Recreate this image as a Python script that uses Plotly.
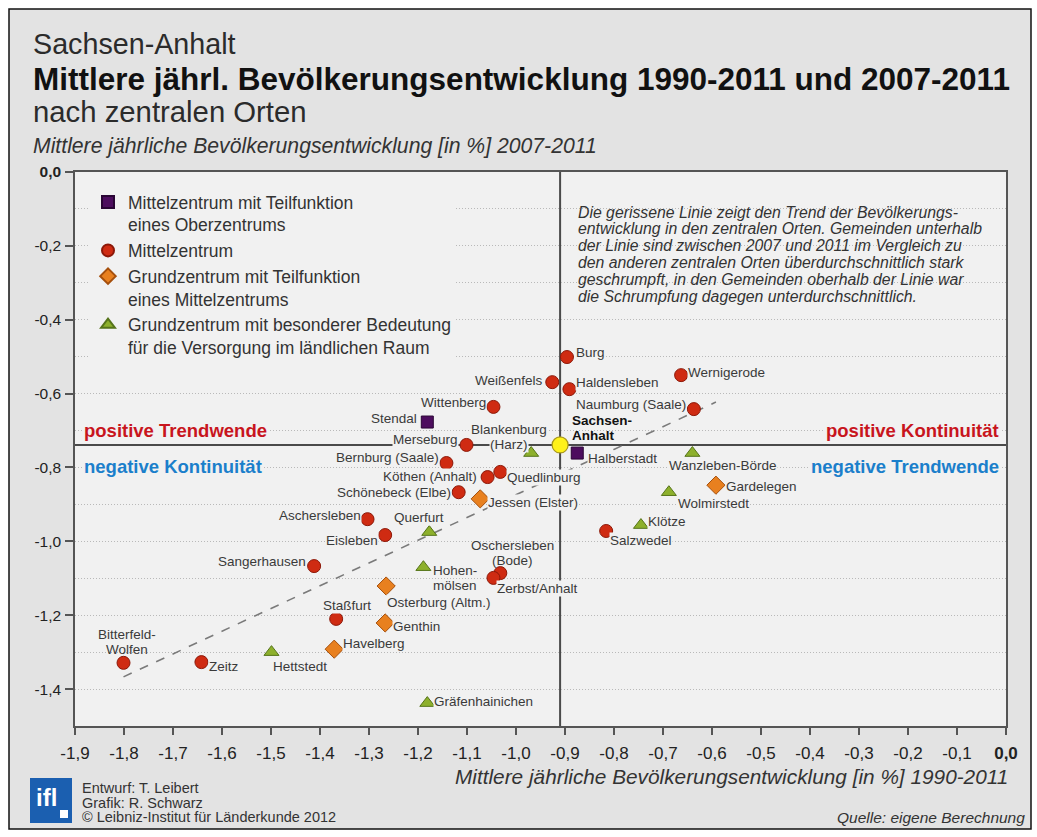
import plotly.graph_objects as go

# ---------------- data ----------------
oz_names = ["Stendal", "Halberstadt"]
oz_x = [-1.181, -0.875]
oz_y = [-0.677, -0.761]

mz_names = ["Burg", "Weißenfels", "Haldensleben", "Wernigerode", "Naumburg (Saale)",
            "Wittenberg", "Merseburg", "Bernburg (Saale)", "Köthen (Anhalt)", "Quedlinburg",
            "Schönebeck (Elbe)", "Aschersleben", "Eisleben", "Sangerhausen",
            "Oschersleben (Bode)", "Zerbst/Anhalt", "Staßfurt", "Bitterfeld-Wolfen",
            "Zeitz", "Salzwedel"]
mz_x = [-0.896, -0.926, -0.891, -0.663, -0.637, -1.046, -1.101, -1.142, -1.058, -1.032,
        -1.117, -1.303, -1.267, -1.412, -1.032, -1.046, -1.367, -1.801, -1.642, -0.816]
mz_y = [-0.501, -0.569, -0.588, -0.550, -0.642, -0.636, -0.739, -0.788, -0.826, -0.812,
        -0.867, -0.940, -0.983, -1.067, -1.086, -1.099, -1.210, -1.329, -1.327, -0.972]

gz_names = ["Jessen (Elster)", "Gardelegen", "Osterburg (Altm.)", "Genthin", "Havelberg"]
gz_x = [-1.073, -0.592, -1.265, -1.267, -1.371]
gz_y = [-0.885, -0.848, -1.121, -1.221, -1.292]

gl_names = ["Blankenburg (Harz)", "Wanzleben-Börde", "Wolmirstedt", "Klötze", "Querfurt",
            "Hohenmölsen", "Hettstedt", "Gräfenhainichen"]
gl_x = [-0.969, -0.640, -0.688, -0.745, -1.177, -1.189, -1.499, -1.181]
gl_y = [-0.761, -0.761, -0.867, -0.956, -0.975, -1.070, -1.300, -1.438]

sa_name = "Sachsen-Anhalt"
sa_x = [-0.910]
sa_y = [-0.739]

trend_x = [-1.801, -0.592]
trend_y = [-1.367, -0.623]

x_tickvals = [-1.9, -1.8, -1.7, -1.6, -1.5, -1.4, -1.3, -1.2, -1.1, -1.0,
              -0.9, -0.8, -0.7, -0.6, -0.5, -0.4, -0.3, -0.2, -0.1, 0.0]
x_ticktext = ["-1,9", "-1,8", "-1,7", "-1,6", "-1,5", "-1,4", "-1,3", "-1,2", "-1,1", "-1,0",
              "-0,9", "-0,8", "-0,7", "-0,6", "-0,5", "-0,4", "-0,3", "-0,2", "-0,1", "<b>0,0</b>"]
y_tickvals = [0.0, -0.2, -0.4, -0.6, -0.8, -1.0, -1.2, -1.4]
y_ticktext = ["<b>0,0</b>", "-0,2", "-0,4", "-0,6", "-0,8", "-1,0", "-1,2", "-1,4"]

legend_names = ["Mittelzentrum mit Teilfunktion<br>eines Oberzentrums",
                "Mittelzentrum",
                "Grundzentrum mit Teilfunktion<br>eines Mittelzentrums",
                "Grundzentrum mit besonderer Bedeutung<br>für die Versorgung im ländlichen Raum"]

note_lines = ["Die gerissene Linie zeigt den Trend der Bevölkerungs-",
              "entwicklung in den zentralen Orten. Gemeinden unterhalb",
              "der Linie sind zwischen 2007 und 2011 im Vergleich zu",
              "den anderen zentralen Orten überdurchschnittlich stark",
              "geschrumpft, in den Gemeinden oberhalb der Linie war",
              "die Schrumpfung dagegen unterdurchschnittlich."]

footer_lines = ["Entwurf: T. Leibert", "Grafik: R. Schwarz",
                "© Leibniz-Institut für Länderkunde 2012"]

# ---------------- label placement (style only) ----------------
label_text = {
    "Blankenburg (Harz)": ["Blankenburg", "(Harz)"],
    "Oschersleben (Bode)": ["Oschersleben", "(Bode)"],
    "Hohenmölsen": ["Hohen-", "mölsen"],
    "Bitterfeld-Wolfen": ["Bitterfeld-", "Wolfen"],
}
# name: (xanchor, xshift, yshift of block centre, use_bg)
label_pos = {
    "Burg": ("left", 8, 5, True),
    "Weißenfels": ("right", -8, 2, True),
    "Haldensleben": ("left", 6, 7, True),
    "Wernigerode": ("left", 6, 3, True),
    "Naumburg (Saale)": ("right", -7, 5, True),
    "Halberstadt": ("left", 10, -5, True),
    "Wanzleben-Börde": ("center", 31, -12, True),
    "Gardelegen": ("left", 9, -1, True),
    "Wolmirstedt": ("left", 8, -11, True),
    "Klötze": ("left", 6, 4, True),
    "Salzwedel": ("left", 3, -10, True),
    "Stendal": ("right", -9, 4, True),
    "Wittenberg": ("right", -6, 4, True),
    "Blankenburg (Harz)": ("center", -22, 16, True),
    "Merseburg": ("right", -8, 5, True),
    "Bernburg (Saale)": ("right", -6, 6, True),
    "Köthen (Anhalt)": ("right", -10, 1, True),
    "Quedlinburg": ("left", 6, -6, True),
    "Schönebeck (Elbe)": ("right", -7, 0, True),
    "Jessen (Elster)": ("left", 7, -4, True),
    "Querfurt": ("center", -10, 15, True),
    "Aschersleben": ("right", -6, 4, True),
    "Eisleben": ("right", -6, -5, True),
    "Sangerhausen": ("right", -7, 5, True),
    "Oschersleben (Bode)": ("center", 12, 20, False),
    "Hohenmölsen": ("left", 9, -11, False),
    "Zerbst/Anhalt": ("left", 3, -11, True),
    "Osterburg (Altm.)": ("left", 0, -16, True),
    "Staßfurt": ("center", 11, 13, True),
    "Genthin": ("left", 7, -4, True),
    "Havelberg": ("left", 8, 6, True),
    "Hettstedt": ("left", 1, -14, True),
    "Zeitz": ("left", 7, -4, True),
    "Bitterfeld-Wolfen": ("center", 3, 21, False),
    "Gräfenhainichen": ("left", 6, 2, True),
}
LINE_STEP = 15.5

# ---------------- geometry helpers (layout only) ----------------
W, H = 1037, 837
ML, MR, MT, MB = 75, 31, 172, 111
PW, PH = W - ML - MR, H - MT - MB


def PX(px):
    return (px - ML) / PW


def PY(py):
    return (H - MB - py) / PH


PLOT_BG = "#f1f1f1"
PAPER_BG = "#e3e3e3"
TXT = "#2b2b2b"
GRID = "#b9b9b9"
SANS = "Liberation Sans, Arial, sans-serif"
LABEL_FONT = dict(family=SANS, size=13.5, color="#3a3a3a")

fig = go.Figure()

# trend line
fig.add_trace(go.Scatter(x=trend_x, y=trend_y, mode="lines", showlegend=False,
                         line=dict(color="#7a7a7a", width=1.6, dash="dash"), hoverinfo="skip"))

fig.add_trace(go.Scatter(x=oz_x, y=oz_y, mode="markers", name=legend_names[0],
                         marker=dict(symbol="square", size=12, color="#4d0d5e",
                                     line=dict(color="#2a0535", width=1))))
fig.add_trace(go.Scatter(x=mz_x, y=mz_y, mode="markers", name=legend_names[1],
                         marker=dict(symbol="circle", size=13, color="#cf2b12",
                                     line=dict(color="#8c1808", width=1))))
fig.add_trace(go.Scatter(x=gz_x, y=gz_y, mode="markers", name=legend_names[2],
                         marker=dict(symbol="diamond", size=14, color="#e8801f",
                                     line=dict(color="#a54f0c", width=1))))
fig.add_trace(go.Scatter(x=gl_x, y=gl_y, mode="markers", name=legend_names[3],
                         marker=dict(symbol="triangle-up", size=13, color="#8db02c",
                                     line=dict(color="#56741a", width=1))))
fig.add_trace(go.Scatter(x=sa_x, y=sa_y, mode="markers", name=sa_name, showlegend=False,
                         marker=dict(symbol="circle", size=16, color="#fff21a",
                                     line=dict(color="#a8981a", width=1.2))))

shapes = []
shapes.append(dict(type="rect", xref="paper", yref="paper", layer="below",
                   x0=PX(9), x1=PX(1031), y0=PY(829), y1=PY(9),
                   fillcolor=PAPER_BG, line=dict(color="#111111", width=1.5)))
shapes.append(dict(type="rect", xref="paper", yref="paper", layer="below",
                   x0=0, x1=1, y0=0, y1=1, fillcolor=PLOT_BG, line=dict(width=0)))
shapes.append(dict(type="line", xref="x", yref="paper", layer="below",
                   x0=sa_x[0], x1=sa_x[0], y0=0, y1=1, line=dict(color="#4a4a4a", width=2)))
shapes.append(dict(type="line", xref="paper", yref="y", layer="below",
                   x0=0, x1=1, y0=sa_y[0], y1=sa_y[0], line=dict(color="#4a4a4a", width=2)))
shapes.append(dict(type="rect", xref="paper", yref="paper", layer="above",
                   x0=PX(30), x1=PX(72), y0=PY(823), y1=PY(778),
                   fillcolor="#1b5fb0", line=dict(width=0)))
shapes.append(dict(type="rect", xref="paper", yref="paper", layer="above",
                   x0=PX(60), x1=PX(68), y0=PY(818), y1=PY(810),
                   fillcolor="#ffffff", line=dict(width=0)))

annotations = []


def txt(x, y, text, size, anchor="left", color=TXT, **kw):
    annotations.append(dict(xref="paper", yref="paper", x=PX(x), y=PY(y), xanchor=anchor,
                            yanchor="middle", showarrow=False, text=text,
                            font=dict(family=SANS, size=size, color=color), **kw))


txt(31, 44, "Sachsen-Anhalt", 28.7)
txt(31, 79, "<b>Mittlere jährl. Bevölkerungsentwicklung 1990-2011 und 2007-2011</b>", 31.5,
    color="#111111")
txt(31, 111, "nach zentralen Orten", 29.3)
txt(31, 146, "<i>Mittlere jährliche Bevölkerungsentwicklung [in %] 2007-2011</i>", 21.2,
    color="#333333")
txt(1010, 776, "<i>Mittlere jährliche Bevölkerungsentwicklung [in %] 1990-2011</i>", 20.8,
    anchor="right", color="#333333")
for i, line in enumerate(footer_lines):
    txt(80, 788 + 14.5 * i, line, 14.5, color="#333333")
txt(1027, 817, "<i>Quelle: eigene Berechnung</i>", 15.5, anchor="right", color="#333333")
txt(34, 797, "<b>ifl</b>", 24, color="#ffffff")
for i, line in enumerate(note_lines):
    txt(576, 212 + 16.8 * i, "<i>" + line + "</i>", 15.8, color="#333333")

RED, BLUE = "#c8151d", "#1b7fcb"
for t, xpx, anchor, ypx, col in [("positive Trendwende", 82, "left", 430, RED),
                                 ("negative Kontinuität", 82, "left", 466, BLUE),
                                 ("positive Kontinuität", 1001, "right", 430, RED),
                                 ("negative Trendwende", 1001, "right", 466, BLUE)]:
    txt(xpx, ypx, "<b>" + t + "</b>", 18.5, anchor=anchor, color=col,
        bgcolor=PLOT_BG, borderpad=1)

# city labels
for names, xs, ys in [(oz_names, oz_x, oz_y), (mz_names, mz_x, mz_y),
                      (gz_names, gz_x, gz_y), (gl_names, gl_x, gl_y)]:
    for n, xv, yv in zip(names, xs, ys):
        xa, xs_, ys_, bg = label_pos[n]
        lines = label_text.get(n, [n])
        k = len(lines)
        for i, line in enumerate(lines):
            annotations.append(dict(xref="x", yref="y", x=xv, y=yv, xanchor=xa,
                                    yanchor="middle", xshift=xs_,
                                    yshift=ys_ + (k - 1) / 2 * LINE_STEP - i * LINE_STEP,
                                    showarrow=False, text=line, font=LABEL_FONT,
                                    bgcolor=PLOT_BG if bg else "rgba(0,0,0,0)", borderpad=0))
for i, line in enumerate(["Sachsen-", "Anhalt"]):
    annotations.append(dict(xref="x", yref="y", x=sa_x[0], y=sa_y[0], xanchor="left",
                            yanchor="middle", xshift=10, yshift=24 - 15 * i, showarrow=False,
                            text="<b>" + line + "</b>",
                            font=dict(family=SANS, size=13.5, color="#111111")))

fig.update_layout(
    width=W, height=H,
    margin=dict(l=ML, r=MR, t=MT, b=MB, pad=0),
    paper_bgcolor="#ffffff",
    plot_bgcolor="rgba(0,0,0,0)",
    font=dict(family=SANS, color=TXT),
    shapes=shapes,
    annotations=annotations,
    legend=dict(x=PX(88), y=PY(184), xanchor="left", yanchor="top",
                bgcolor=PLOT_BG, borderwidth=0, valign="top", itemsizing="constant",
                font=dict(family=SANS, size=17.5, color="#333333"),
                tracegroupgap=4, itemwidth=30),
    xaxis=dict(range=[-1.9, 0.0], tickvals=x_tickvals, ticktext=x_ticktext,
               showgrid=False, zeroline=False, showline=True, mirror=True,
               linecolor="#555555", linewidth=1.5, ticks="outside", ticklen=7,
               tickcolor="#555555", tickwidth=1.5, ticklabelstandoff=4,
               tickfont=dict(family=SANS, size=17, color="#222222")),
    yaxis=dict(range=[-1.5, 0.0], tickvals=y_tickvals, ticktext=y_ticktext,
               showgrid=True, gridcolor=GRID, griddash="1px,2px", gridwidth=1,
               zeroline=False, showline=True, mirror=True,
               linecolor="#555555", linewidth=1.5, ticks="outside", ticklen=8,
               tickcolor="#555555", tickwidth=1.5, ticklabelstandoff=1,
               tickfont=dict(family=SANS, size=15.5, color="#222222"),
               minor=dict(tick0=0, dtick=0.1, showgrid=True, gridcolor=GRID,
                          griddash="1px,2px", gridwidth=1, ticks="")),
)

fig.write_html("out.html", config={"displayModeBar": False},
               post_script="document.body.style.margin='0px';")
